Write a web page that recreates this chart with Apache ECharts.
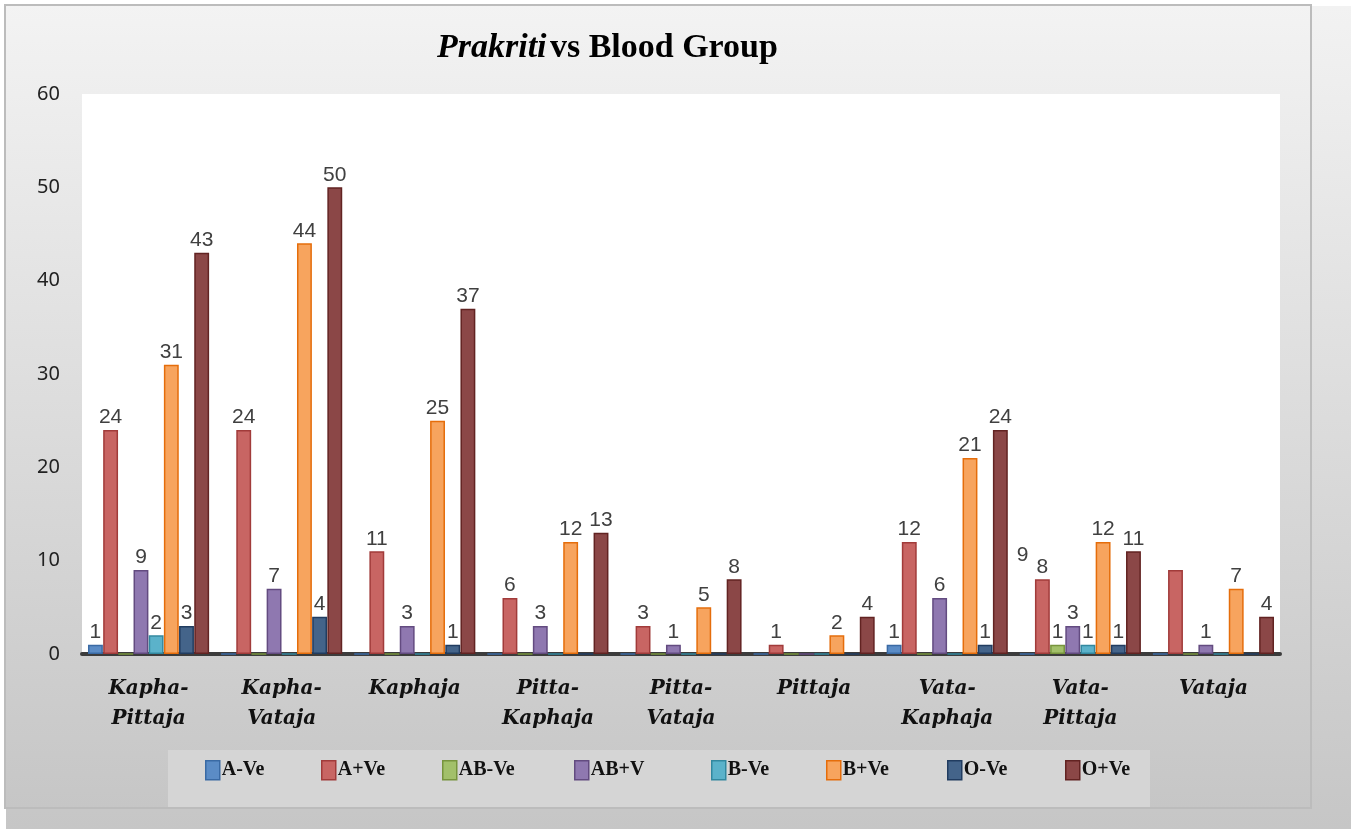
<!DOCTYPE html>
<html><head><meta charset="utf-8">
<script src="https://cdn.jsdelivr.net/npm/echarts@6/dist/echarts.min.js"></script>
<style>html,body{margin:0;padding:0;background:#fff;}#c{width:1354px;height:829px;}</style>
</head><body><div id="c"></div>
<script>
const categories = ['Kapha-\nPittaja','Kapha-\nVataja','Kaphaja','Pitta-\nKaphaja','Pitta-\nVataja','Pittaja','Vata-\nKaphaja','Vata-\nPittaja','Vataja'];
const seriesNames = ['A-Ve','A+Ve','AB-Ve','AB+V','B-Ve','B+Ve','O-Ve','O+Ve'];
const aNeg  = [1,0,0,0,0,0,1,0,0];
const aPos  = [24,24,11,6,3,1,12,8,9];
const abNeg = [0,0,0,0,0,0,0,1,0];
const abPos = [9,7,3,3,1,0,6,3,1];
const bNeg  = [2,0,0,0,0,0,0,1,0];
const bPos  = [31,44,25,12,5,2,21,12,7];
const oNeg  = [3,4,1,0,0,0,1,1,0];
const oPos  = [43,50,37,13,8,4,24,11,4];
const yTicks = [0,10,20,30,40,50,60];

const values = [aNeg,aPos,abNeg,abPos,bNeg,bPos,oNeg,oPos];
const fills   = ['#5b8cc6','#c86563','#a2c06a','#8f78b0','#5bb2ca','#f7a45e','#44648a','#8b4747'];
const borders = ['#3a6aa4','#a13b3a','#77943d','#634b80','#32889f','#e56d0b','#213c60','#622322'];
const legendX = [200,316,437,569,706,821,942,1060];

const chart = echarts.init(document.getElementById('c'));
const labelFont = {fontFamily:'"Liberation Sans","Noto Sans",sans-serif', fontSize:21, color:'#404040'};

const series = values.map((arr,i)=>({
  name: seriesNames[i],
  type:'bar',
  barGap:'2%',
  barCategoryGap:'9%',
  data: arr.map((v,j)=>{
    const d = {value:v};
    if (i===1 && j===8) d.label = {offset:[-153,-2]};
    return d;
  }),
  itemStyle:{color:fills[i], borderColor:borders[i], borderWidth:1.5},
  label:{show:true, position:'top', distance:2, ...labelFont,
    formatter:p=> p.value===0 ? '' : String(p.value)},
  emphasis:{disabled:true}
}));

const legends = seriesNames.map((n,i)=>({
  data:[n], left:legendX[i], top:755, orient:'horizontal',
  itemWidth:14, itemHeight:19, itemGap:0, icon:'rect',
  textStyle:{fontFamily:'"Liberation Serif",serif', fontWeight:'bold', fontSize:20, color:'#111', padding:[0,0,0,-3]},
  selectedMode:false,
  itemStyle:{borderColor:borders[i], borderWidth:1.5}
}));

chart.setOption({
  animation:false,
  graphic:[
    {type:'rect', z:-10, silent:true, shape:{x:6,y:6,width:1345,height:823},
     style:{fill:new echarts.graphic.LinearGradient(0,0,0,1,[{offset:0,color:'#f2f2f2'},{offset:1,color:'#c6c6c6'}])}},
    {type:'rect', z:-9, silent:true, shape:{x:5,y:5,width:1306,height:803},
     style:{fill:new echarts.graphic.LinearGradient(0,0,0,1,[{offset:0,color:'#f3f3f3'},{offset:1,color:'#c6c6c6'}]), stroke:'#bcbcbc', lineWidth:2}},
    {type:'rect', z:-8, silent:true, shape:{x:168,y:750,width:982,height:57},
     style:{fill:'#d5d5d5'}},
    {type:'text', left:437, top:31, z:10, style:{
      rich:{i:{fontFamily:'"Liberation Serif",serif',fontStyle:'italic',fontWeight:'bold',fontSize:34,fill:'#000'},
            b:{fontFamily:'"Liberation Serif",serif',fontWeight:'bold',fontSize:34,fill:'#000'}},
      text:'{i|Prakriti} {b|vs Blood Group}'}}
  ],
  legend: legends,
  grid:{left:82, right:74, top:94, bottom:175, show:true, backgroundColor:'#ffffff', borderWidth:0},
  xAxis:{type:'category', data:categories,
    axisLine:{show:true, lineStyle:{color:'#3c3c3c', width:4}},
    axisTick:{show:false},
    axisLabel:{interval:0, margin:20, fontFamily:'"DejaVu Serif",serif', fontStyle:'italic', fontWeight:'bold', fontSize:20, lineHeight:30, color:'#111'}
  },
  yAxis:{type:'value', min:0, max:60, interval:10,
    axisLine:{show:false}, axisTick:{show:false}, splitLine:{show:false},
    axisLabel:{margin:22, fontFamily:'"Noto Sans",sans-serif', fontSize:20, color:'#222',
      formatter:v=> yTicks.includes(v) ? String(v) : ''}
  },
  series: series
});
</script></body></html>
